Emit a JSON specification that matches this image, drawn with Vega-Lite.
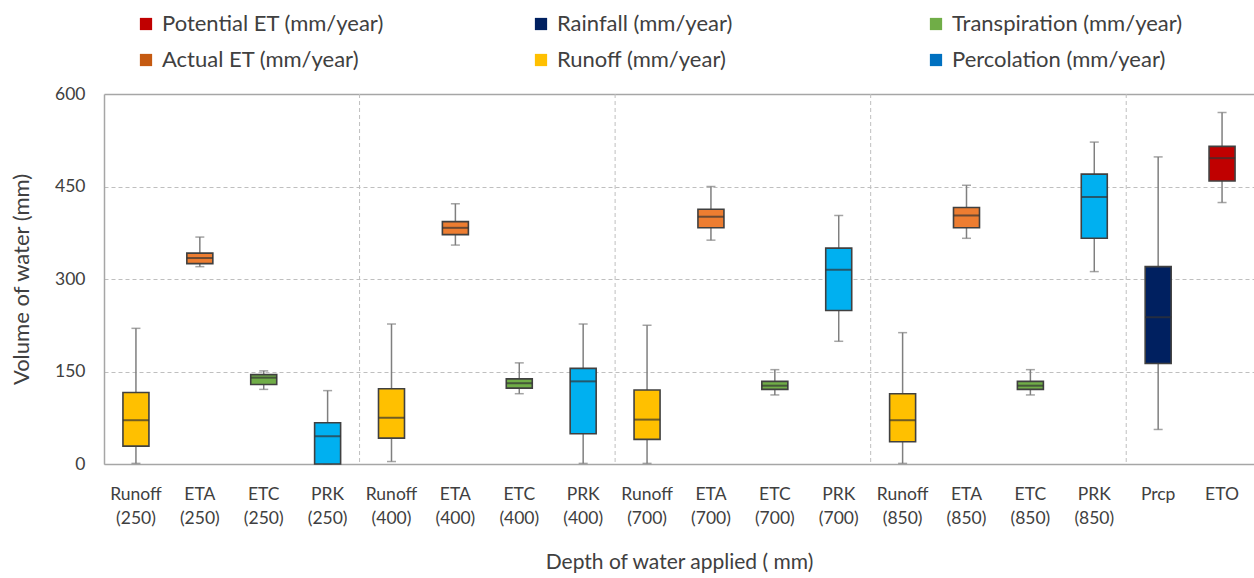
{
  "$schema": "https://vega.github.io/schema/vega-lite/v6.json",
  "width": 1150,
  "height": 370,
  "autosize": {"type": "none"},
  "padding": {"left": 104, "top": 94, "right": 0, "bottom": 114},
  "config": {
    "view": {"stroke": null},
    "font": "Lato",
    "background": "white"
  },
  "data": {
    "values": [
      {"category": "Runoff (250)", "series": "Runoff (mm/year)", "min": 1, "q1": 29, "median": 71, "q3": 116, "max": 220},
      {"category": "ETA (250)", "series": "Actual ET (mm/year)", "min": 320, "q1": 325, "median": 334, "q3": 342, "max": 368},
      {"category": "ETC (250)", "series": "Transpiration (mm/year)", "min": 121, "q1": 129, "median": 140, "q3": 145, "max": 151},
      {"category": "PRK (250)", "series": "Percolation (mm/year)", "min": 0, "q1": 0, "median": 45, "q3": 67, "max": 119},
      {"category": "Runoff (400)", "series": "Runoff (mm/year)", "min": 4, "q1": 42, "median": 75, "q3": 122, "max": 227},
      {"category": "ETA (400)", "series": "Actual ET (mm/year)", "min": 355, "q1": 372, "median": 383, "q3": 393, "max": 422},
      {"category": "ETC (400)", "series": "Transpiration (mm/year)", "min": 114, "q1": 123, "median": 131, "q3": 138, "max": 164},
      {"category": "PRK (400)", "series": "Percolation (mm/year)", "min": 1, "q1": 49, "median": 134, "q3": 155, "max": 227},
      {"category": "Runoff (700)", "series": "Runoff (mm/year)", "min": 1, "q1": 40, "median": 72, "q3": 120, "max": 225},
      {"category": "ETA (700)", "series": "Actual ET (mm/year)", "min": 363, "q1": 383, "median": 401, "q3": 413, "max": 450},
      {"category": "ETC (700)", "series": "Transpiration (mm/year)", "min": 112, "q1": 121, "median": 127, "q3": 134, "max": 153},
      {"category": "PRK (700)", "series": "Percolation (mm/year)", "min": 199, "q1": 249, "median": 315, "q3": 350, "max": 403},
      {"category": "Runoff (850)", "series": "Runoff (mm/year)", "min": 1, "q1": 36, "median": 71, "q3": 114, "max": 213},
      {"category": "ETA (850)", "series": "Actual ET (mm/year)", "min": 366, "q1": 383, "median": 403, "q3": 416, "max": 452},
      {"category": "ETC (850)", "series": "Transpiration (mm/year)", "min": 112, "q1": 121, "median": 127, "q3": 134, "max": 153},
      {"category": "PRK (850)", "series": "Percolation (mm/year)", "min": 312, "q1": 366, "median": 433, "q3": 470, "max": 522},
      {"category": "Prcp", "series": "Rainfall (mm/year)", "min": 56, "q1": 163, "median": 238, "q3": 320, "max": 498},
      {"category": "ETO", "series": "Potential ET (mm/year)", "min": 424, "q1": 459, "median": 496, "q3": 515, "max": 570}
    ]
  },
  "encoding": {
    "x": {
      "field": "category",
      "type": "nominal",
      "sort": null,
      "scale": {
        "domain": ["Runoff (250)", "ETA (250)", "ETC (250)", "PRK (250)", "Runoff (400)", "ETA (400)", "ETC (400)", "PRK (400)", "Runoff (700)", "ETA (700)", "ETC (700)", "PRK (700)", "Runoff (850)", "ETA (850)", "ETC (850)", "PRK (850)", "Prcp", "ETO"],
        "paddingInner": 0,
        "paddingOuter": 0
      },
      "axis": {
        "title": "Depth of water applied ( mm)",
        "titleFontSize": 21,
        "titleFontWeight": "normal",
        "titleColor": "#404040",
        "titlePadding": 25,
        "labelExpr": "split(datum.label, ' ')",
        "labelAngle": 0,
        "labelFontSize": 17.5,
        "labelColor": "#404040",
        "labelLineHeight": 24,
        "labelPadding": 21,
        "ticks": false,
        "domainColor": "#A6A6A6",
        "domainWidth": 1.5
      }
    }
  },
  "layer": [
    {
      "transform": [{"filter": "datum.category == 'Runoff (400)' || datum.category == 'Runoff (700)' || datum.category == 'Runoff (850)' || datum.category == 'Prcp'"}],
      "mark": {"type": "rule", "color": "#BFBFBF", "strokeDash": [4, 3], "strokeWidth": 1},
      "encoding": {"x": {"field": "category", "type": "nominal", "sort": null, "bandPosition": 0}}
    },
    {
      "mark": {"type": "rule", "color": "#7F7F7F", "strokeWidth": 1.5},
      "encoding": {
        "y": {
          "field": "min",
          "type": "quantitative",
          "scale": {"domain": [0, 600], "nice": false},
          "axis": {
            "title": "Volume of water (mm)",
            "titleFontSize": 22,
            "titleFontWeight": "normal",
            "titleColor": "#404040",
            "titlePadding": 21,
            "values": [0, 150, 300, 450, 600],
            "labelFontSize": 17.5,
            "labelColor": "#404040",
            "labelPadding": 19,
            "ticks": false,
            "domainColor": "#A6A6A6",
            "domainWidth": 1.5,
            "grid": true,
            "gridColor": {"condition": {"test": "datum.value === 600", "value": "#A6A6A6"}, "value": "#BFBFBF"},
            "gridDash": {"condition": {"test": "datum.value === 600", "value": []}, "value": [4, 3]},
            "gridWidth": {"condition": {"test": "datum.value === 600", "value": 1.5}, "value": 1}
          }
        },
        "y2": {"field": "max"}
      }
    },
    {
      "mark": {"type": "tick", "color": "#7F7F7F", "size": 9, "thickness": 1.5},
      "encoding": {"y": {"field": "min", "type": "quantitative"}}
    },
    {
      "mark": {"type": "tick", "color": "#7F7F7F", "size": 9, "thickness": 1.5},
      "encoding": {"y": {"field": "max", "type": "quantitative"}}
    },
    {
      "mark": {"type": "bar", "width": 26, "stroke": "#404040", "strokeWidth": 1.6},
      "encoding": {
        "y": {"field": "q1", "type": "quantitative"},
        "y2": {"field": "q3"},
        "fill": {
          "field": "series",
          "type": "nominal",
          "scale": {
            "domain": ["Actual ET (mm/year)", "Percolation (mm/year)", "Potential ET (mm/year)", "Rainfall (mm/year)", "Runoff (mm/year)", "Transpiration (mm/year)"],
            "range": ["#ED7D31", "#00B0F0", "#C00000", "#002060", "#FFC000", "#70AD47"]
          },
          "legend": null
        }
      }
    },
    {
      "mark": {"type": "tick", "color": "#333333", "size": 26, "thickness": 2},
      "encoding": {"y": {"field": "median", "type": "quantitative"}}
    },
    {
      "mark": {"type": "point", "filled": true, "shape": "square", "size": 0},
      "encoding": {
        "y": {"field": "median", "type": "quantitative"},
        "color": {
          "field": "series",
          "type": "nominal",
          "scale": {
            "domain": ["Potential ET (mm/year)", "Rainfall (mm/year)", "Transpiration (mm/year)", "Actual ET (mm/year)", "Runoff (mm/year)", "Percolation (mm/year)"],
            "range": ["#C00000", "#002060", "#70AD47", "#C55A11", "#FFC000", "#0070C0"]
          },
          "legend": {
            "orient": "none",
            "legendX": 31,
            "legendY": -81,
            "columns": 3,
            "direction": "horizontal",
            "title": null,
            "symbolType": "square",
            "symbolSize": 150,
            "symbolOpacity": 1,
            "symbolStrokeWidth": 0,
            "labelFontSize": 22,
            "labelLimit": 400,
            "labelColor": "#404040",
            "labelOffset": 5,
            "columnPadding": 137,
            "rowPadding": 14,
            "gridAlign": "all"
          }
        }
      }
    }
  ]
}
